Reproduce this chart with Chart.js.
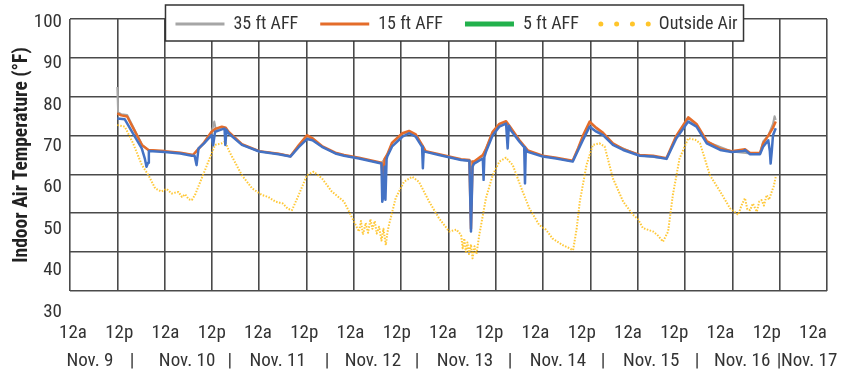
<!DOCTYPE html>
<html>
<head>
<meta charset="utf-8">
<script src="https://cdn.jsdelivr.net/npm/chart.js@4"></script>
<style>
  html, body { margin: 0; padding: 0; background: #fff; }
</style>
</head>
<body>
<canvas id="myChart" width="842" height="376"></canvas>
<script>
// hours counted from Nov. 9, 12a
let tickHours = [0, 12, 24, 36, 48, 60, 72, 84, 96, 108, 120, 132, 144, 156, 168, 180, 192]
let tickLabels = ['12a', '12p', '12a', '12p', '12a', '12p', '12a', '12p', '12a', '12p', '12a', '12p', '12a', '12p', '12a', '12p', '12a']
let dayHours = [4.4, 15.3, 29.6, 40.7, 53.1, 65.9, 77.8, 89.3, 101.7, 113.4, 125.8, 137.5, 150, 161.9, 173.6, 183.2, 191]
let dayLabels = ['Nov. 9', '|', 'Nov. 10', '|', 'Nov. 11', '|', 'Nov. 12', '|', 'Nov. 13', '|', 'Nov. 14', '|', 'Nov. 15', '|', 'Nov. 16', '|', 'Nov. 17']
let tempTicks = [30, 40, 50, 60, 70, 80, 90, 100]

let seriesNames = ['35 ft AFF', '15 ft AFF', '5 ft AFF', 'Outside Air']

let ft35 = [[12, 82.5], [12.2, 76], [13, 75.5], [14.5, 75.3], [16, 72.3], [18.3, 67.6], [19.9, 66.2], [24, 65.9], [28, 65.5],
  [31.2, 65], [32.5, 66.4], [34, 68], [35.9, 70.8], [36.6, 73.6], [37, 71.5], [38.5, 72.1], [40.2, 70.8], [43.6, 67.7],
  [48, 65.9], [52.9, 65.3], [55.9, 64.7], [58, 67.3], [60.1, 69.9], [63.9, 67.2], [67.3, 65.5], [69.5, 64.9], [73.3, 64.2],
  [79, 62.9], [80.5, 65], [81.7, 68], [84.3, 70.4], [86, 71], [87.7, 70.1], [89.3, 67.4], [90.2, 65.9], [93.6, 65.1],
  [99.2, 63.8], [102.5, 63.2], [104.7, 64.8], [107.2, 70.7], [108.9, 72.8], [110.6, 73.5], [111.8, 71.8], [114, 68.6],
  [116.1, 66], [119.9, 64.7], [123.3, 64.2], [127.5, 63.4], [130.1, 69.6], [131.8, 73.3], [133.5, 71.8], [137.7, 67.8],
  [144.5, 64.9], [151.3, 64.1], [153.8, 69.8], [156.8, 74.4], [158.9, 72.8], [161.5, 68.4], [167.8, 65.9], [172.5, 65.4],
  [175, 65.4], [175.8, 68.5], [177.1, 70], [178.3, 73], [178.7, 75], [179, 74]]

let ft15 = [[12, 75.7], [13, 75.2], [14.5, 74.9], [16, 72], [18.3, 67.5], [19.9, 66.3], [24, 66], [28, 65.6], [31.2, 65],
  [32.5, 66.5], [34, 68.2], [35.9, 71], [37, 71.8], [38.5, 72.3], [39.5, 72], [40.2, 71], [43.6, 67.8], [48, 66],
  [52.9, 65.3], [55.9, 64.7], [58, 67.5], [60.1, 70.1], [61.5, 69.3], [63.9, 67.3], [67.3, 65.6], [69.5, 65], [73.3, 64.3],
  [79, 63], [79.4, 58], [79.8, 64], [80.5, 65.2], [81.7, 68.2], [84.3, 70.6], [86, 71.2], [87.7, 70.3], [89.3, 67.6],
  [90.2, 66], [93.6, 65.2], [99.2, 63.9], [101.3, 63.7], [101.7, 46], [102.1, 63.3], [102.5, 63.3], [104.7, 65],
  [105.5, 66.5], [107.2, 71], [108.9, 73], [110.6, 73.7], [111.8, 72], [114, 68.8], [116.1, 66.2], [119.9, 64.8],
  [123.3, 64.3], [127.5, 63.5], [128.9, 66.8], [130.1, 70], [131.8, 73.6], [133.5, 72], [135.2, 70.7], [137.7, 68],
  [140.3, 66.5], [144.5, 65], [147.9, 64.8], [151.3, 64.2], [153.8, 70], [156.8, 74.7], [158.9, 73], [161.5, 68.6],
  [164.9, 66.6], [167.8, 66], [171.2, 66.5], [172.5, 65.5], [175, 65.5], [175.8, 68], [177.1, 70], [178.3, 72], [179, 73.6]]

let ft5 = [[12, 74.4], [13.9, 74.2], [16, 70.5], [18.2, 66.7], [19, 64], [19.4, 62], [19.8, 63], [20, 66], [24, 65.8],
  [28, 65.4], [30.9, 64.8], [31.6, 64.8], [32.1, 62.4], [32.6, 66.7], [34, 68], [35.9, 70.1], [36.3, 67.5], [36.8, 71],
  [38, 71.4], [38.5, 71.6], [39.2, 71.8], [39.4, 67.6], [39.7, 71.5], [40.2, 70.6], [43.6, 67.6], [48, 65.9], [52.9, 65.2],
  [55.9, 64.6], [58, 67], [60.1, 69.1], [61.5, 68.8], [63.9, 67.1], [67.3, 65.4], [69.5, 64.8], [73.3, 64.1], [79, 62.8],
  [79.2, 53], [79.6, 55], [79.8, 62], [80, 53.5], [80.3, 64], [80.5, 64.7], [81.7, 67.2], [84.3, 69.7], [86, 70.6],
  [87.7, 69.7], [89.3, 67.1], [89.5, 61.6], [89.7, 66], [90.2, 65.8], [93.6, 65], [99.2, 63.7], [101.3, 63.5],
  [101.7, 45.3], [102.1, 62], [102.5, 62.8], [104.7, 64.1], [104.9, 58.6], [105.1, 64.5], [105.5, 65.8], [107.2, 70.1],
  [108.9, 72.3], [110.6, 73.1], [111, 66.7], [111.3, 72.5], [111.8, 71.4], [114, 68.4], [115.2, 67], [115.4, 57.7],
  [115.6, 66.5], [116.1, 65.8], [119.9, 64.6], [123.3, 64.1], [127.5, 63.3], [128.9, 66.3], [130.1, 68.9], [131.8, 72.3],
  [133.5, 71], [135.2, 70.1], [137.7, 67.6], [140.3, 66.3], [144.5, 64.8], [147.9, 64.6], [151.3, 64], [153.8, 69.3],
  [156.8, 73.6], [158.9, 72.3], [161.5, 68], [164.9, 66.3], [167.8, 65.8], [170.8, 66], [171.2, 66.3], [172.5, 65.2],
  [175, 65.2], [175.8, 67.1], [177.1, 68.8], [177.5, 66], [177.7, 62.8], [178, 66], [178.3, 70.1], [179, 71.9]]

let outside = [[12, 72.7], [13.9, 72.3], [16, 68], [18.2, 62.5], [19.9, 59.8], [21.6, 56.4], [23.2, 55.6], [24.5, 56.3],
  [25.8, 55.1], [27.5, 55.5], [28.4, 54.2], [29.2, 54.9], [30.1, 53.6], [30.9, 53.4], [31.7, 54.7], [33.4, 59], [35.1, 63.3],
  [36.8, 67.6], [38.5, 68], [39.4, 68.5], [40.2, 66.3], [43.6, 59.8], [46.2, 56.4], [48.7, 54.7], [50.3, 54.2], [52.1, 53],
  [54, 52.5], [55.2, 51.2], [56.3, 50.8], [58, 54.7], [60.1, 59.8], [61.8, 60.7], [63.9, 59], [66.4, 55.6], [69.5, 53],
  [70.8, 50.4], [72.2, 47.5], [73.3, 45.3], [73.8, 48], [74.3, 44.5], [75, 47.5], [75.6, 45], [76.2, 48.5], [76.7, 46],
  [77.3, 48], [77.8, 44.8], [78.4, 46.5], [79, 43], [79.5, 46], [80.1, 41.8], [80.5, 45], [80.9, 47], [82.6, 53.9],
  [84.7, 58.1], [86.8, 59.4], [88.5, 58.1], [91.1, 53], [93.6, 48.7], [96.2, 45.3], [98, 45.8], [99.2, 44.4], [99.6, 41],
  [100, 43.5], [100.4, 40.1], [100.8, 42.5], [101.2, 39.5], [101.7, 42], [102.1, 38.4], [102.6, 41.5], [103.1, 39.5],
  [103.8, 44.4], [105.5, 53.9], [107.2, 59.8], [108.9, 63.3], [110.6, 64.3], [112.3, 62.4], [114.8, 55.6], [116.5, 51.3],
  [119, 47], [120.7, 45.8], [122.4, 43.5], [125, 41.8], [126.3, 41.2], [127.6, 40.5], [128.5, 46], [129.3, 53], [131, 62.4],
  [132.6, 67.6], [134.3, 68], [135.6, 67.2], [137.7, 59], [140.3, 53], [142.8, 49.6], [144, 48.6], [145.3, 46.2],
  [147.9, 45.3], [149.2, 44.2], [150.4, 42.7], [151.7, 45.3], [152.9, 54.7], [154.6, 64.1], [156.8, 69.3], [158.6, 68.9],
  [159.8, 68], [162.3, 59.8], [164.9, 55.6], [167.4, 51.3], [169.5, 49.6], [170.3, 52], [171.2, 53.9], [171.8, 51],
  [172.5, 50.8], [173.2, 52.5], [174.2, 50.4], [174.8, 53], [175.4, 53.4], [176, 52], [176.7, 54.7], [177.3, 53.5],
  [178, 55.6], [178.5, 57], [179, 59.4]]

// pick the narrowest installed face, then size text to the widths seen in the picture
let probe = document.createElement('canvas').getContext('2d')
function pickFont(list) {
  let s = 'Nov. 10 12a 35 ft AFF'
  probe.font = '40px monospace'
  let base = probe.measureText(s).width
  for (let f of list) {
    probe.font = '40px "' + f + '", monospace'
    if (probe.measureText(s).width !== base) return f
  }
  return 'sans-serif'
}
const FACE = pickFont(['Noto Sans ExtraCondensed', 'Noto Sans Condensed', 'Liberation Sans Narrow', 'Roboto Condensed', 'DejaVu Sans Condensed'])
const FONT = '"' + FACE + '", "DejaVu Sans Condensed", sans-serif'
function fitSize(text, width, weight) {
  probe.font = (weight || 'normal') + ' 100px ' + FONT
  let s = width * 100 / probe.measureText(text).width
  return Math.max(15, Math.min(23, Math.round(s * 2) / 2))
}
const axisSize = fitSize('Nov. 10', 56)
const legendSize = fitSize('Outside Air', 78)
const titleSize = fitSize('Indoor Air Temperature (°F)', 215, 'bold')

const GRID = '#4a4a4a'
Chart.defaults.font.family = FONT
Chart.defaults.color = '#333'

const toXY = pts => pts.map(p => ({ x: p[0], y: p[1] }))

// the key shows 5 ft in green although it is drawn blue
const legendStyle = [
  { color: '#a6a6a6', width: 3, dash: [] },
  { color: '#e46c2a', width: 3, dash: [] },
  { color: '#22b14c', width: 5, dash: [] },
  { color: '#ffc52a', width: 5, dash: [0, 15.8] }
]

const noPad = s => { s.paddingLeft = 0; s.paddingRight = 0; s.paddingTop = 0; s.paddingBottom = 0 }

// the key floats over the top of the plot inside a framed white box
const legendBox = {
  id: 'legendBox',
  beforeDraw(chart) {
    let lg = chart.legend
    let pad = lg.options.labels.padding
    lg.top = 24 - pad - legendSize / 2
    lg.bottom = lg.top + 60
    lg.height = 60
    lg.left = chart.chartArea.left + 8
    lg.right = chart.chartArea.right + 8
    lg.width = lg.right - lg.left
  },
  afterDraw(chart) {
    let lg = chart.legend
    let pad = lg.options.labels.padding
    let w = lg.lineWidths[0]
    let x0 = (lg.left + pad + lg.right - w) / 2
    let ctx = chart.ctx
    ctx.save()
    ctx.fillStyle = '#fff'
    ctx.strokeStyle = '#333'
    ctx.lineWidth = 1.5
    ctx.fillRect(x0 - 10, 5, w - pad + 16, 36)
    ctx.strokeRect(x0 - 10, 5, w - pad + 16, 36)
    ctx.restore()
    lg.draw()
  }
}

let ctx = document.getElementById('myChart').getContext('2d')
let chart = new Chart(ctx, {
  type: 'line',
  data: {
    datasets: [
      { label: seriesNames[0], data: toXY(ft35), borderColor: '#a6a6a6', borderWidth: 2, order: 3 },
      { label: seriesNames[1], data: toXY(ft15), borderColor: '#e46c2a', borderWidth: 2.5, order: 2 },
      { label: seriesNames[2], data: toXY(ft5), borderColor: '#4472c4', borderWidth: 2.5, order: 1 },
      { label: seriesNames[3], data: toXY(outside), borderColor: 'rgba(255, 190, 20, 0.85)', borderWidth: 2,
        borderDash: [1.5, 1.5], order: 4 }
    ]
  },
  options: {
    responsive: false,
    animation: false,
    events: [],
    layout: { padding: { top: 19, right: 15, bottom: 2, left: 0 } },
    elements: {
      point: { radius: 0 },
      line: { tension: 0, borderJoinStyle: 'round', fill: false }
    },
    plugins: {
      tooltip: { enabled: false },
      legend: {
        position: 'top',
        align: 'center',
        maxHeight: 0.01,
        labels: {
          usePointStyle: true,
          pointStyleWidth: 49,
          padding: 22,
          color: '#333',
          font: { size: legendSize },
          generateLabels: c => c.data.datasets.map((ds, i) => ({
            text: ds.label,
            datasetIndex: i,
            hidden: false,
            pointStyle: 'line',
            strokeStyle: legendStyle[i].color,
            fillStyle: legendStyle[i].color,
            lineWidth: legendStyle[i].width,
            lineDash: legendStyle[i].dash,
            lineCap: i === 3 ? 'round' : 'butt',
            fontColor: '#333'
          }))
        }
      }
    },
    scales: {
      x: {
        type: 'linear', min: 0, max: 192, position: 'bottom',
        ticks: { display: false, stepSize: 12 },
        grid: { color: GRID, lineWidth: 1.6, drawTicks: false, z: -1 },
        border: { display: false },
        afterFit: s => { noPad(s); s.height = 0 }
      },
      xLab: {
        type: 'linear', min: -0.78, max: 195.63, position: 'bottom',
        afterBuildTicks: s => { s.ticks = tickHours.map(v => ({ value: v })) },
        ticks: { autoSkip: false, maxRotation: 0, minRotation: 0, padding: 333 - 291 - axisSize * 0.6,
          font: { size: axisSize }, callback: (v, i) => tickLabels[i] },
        grid: { display: false, drawTicks: false },
        border: { display: false },
        afterFit: s => { noPad(s); s.height = 53 }
      },
      xDay: {
        type: 'linear', min: -0.78, max: 195.63, position: 'bottom',
        afterBuildTicks: s => { s.ticks = dayHours.map(v => ({ value: v })) },
        ticks: { autoSkip: false, maxRotation: 0, minRotation: 0, padding: 361 - 344 - axisSize * 0.6,
          font: { size: axisSize }, callback: (v, i) => dayLabels[i] },
        grid: { display: false, drawTicks: false },
        border: { display: false },
        afterFit: s => { noPad(s); s.height = 30 }
      },
      y: {
        type: 'linear', min: 30, max: 100, position: 'left',
        ticks: { display: false, stepSize: 10 },
        grid: { color: GRID, lineWidth: 1.6, drawTicks: false, z: -1 },
        border: { display: false },
        afterFit: s => { noPad(s); s.width = 0 }
      },
      yLab: {
        type: 'linear', min: 35.07, max: 100.72, position: 'left',
        afterBuildTicks: s => { s.ticks = tempTicks.map(v => ({ value: v })) },
        ticks: { autoSkip: false, padding: 8, font: { size: axisSize }, callback: v => String(v) },
        grid: { display: false, drawTicks: false },
        border: { display: false },
        title: {
          display: true,
          text: 'Indoor Air Temperature (°F)',
          color: '#222',
          font: { size: titleSize, weight: 'bold' },
          padding: { top: 22 - titleSize * 0.6, bottom: 0 }
        },
        afterFit: s => { noPad(s); s.width = 70 }
      }
    }
  },
  plugins: [legendBox]
})
</script>
</body>
</html>
